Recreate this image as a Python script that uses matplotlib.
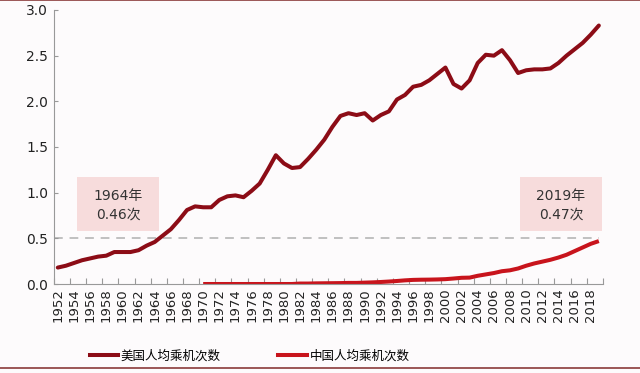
import numpy as np
import matplotlib.pyplot as plt
from matplotlib.lines import Line2D
from matplotlib.patches import Rectangle

plt.rcParams['font.family'] = ['DejaVu Sans', 'Noto Sans CJK SC']

# 年份与数据
years = list(range(1952, 2020))

us_trips = [
    0.18, 0.20, 0.23, 0.26, 0.28, 0.30, 0.31, 0.35, 0.35, 0.35,
    0.37, 0.42, 0.46, 0.53, 0.60, 0.70, 0.81, 0.85, 0.84, 0.84,
    0.92, 0.96, 0.97, 0.95, 1.02, 1.10, 1.25, 1.41, 1.32, 1.27,
    1.28, 1.37, 1.47, 1.58, 1.72, 1.84, 1.87, 1.85, 1.87, 1.79,
    1.85, 1.89, 2.02, 2.07, 2.16, 2.18, 2.23, 2.30, 2.37, 2.19,
    2.14, 2.23, 2.42, 2.51, 2.50, 2.56, 2.45, 2.31, 2.34, 2.35,
    2.35, 2.36, 2.42, 2.50, 2.57, 2.64, 2.73, 2.83]

cn_years = list(range(1970, 2020))
cn_trips = [
    0.00, 0.00, 0.00, 0.00, 0.00, 0.00, 0.00, 0.00, 0.00, 0.00,
    0.00, 0.00, 0.005, 0.005, 0.007, 0.008, 0.009, 0.01, 0.012, 0.012,
    0.015, 0.018, 0.022, 0.027, 0.033, 0.04, 0.045, 0.047, 0.048, 0.05,
    0.053, 0.06, 0.068, 0.07, 0.09, 0.105, 0.12, 0.14, 0.15, 0.17,
    0.20, 0.225, 0.245, 0.265, 0.29, 0.32, 0.36, 0.40, 0.44, 0.47]

us_label = '美国人均乘机次数'
cn_label = '中国人均乘机次数'
ref_level = 0.5
note_texts = ['1964年\n0.46次', '2019年\n0.47次']

us_color = '#8c0c16'
cn_color = '#c8141c'
bg = '#fdfbfc'

fig = plt.figure(figsize=(6.4, 3.73), dpi=100, facecolor=bg)
ax = fig.add_axes([0.084, 0.2386, 0.858, 0.7346], facecolor=bg)

x_us = np.arange(len(years))
x_cn = np.array([years.index(y) for y in cn_years])

ax.plot(x_us, us_trips, color=us_color, lw=2.9, solid_capstyle='round')
ax.plot(x_cn, cn_trips, color=cn_color, lw=2.9, solid_capstyle='butt')

ax.plot([-0.5, len(years) - 1], [ref_level, ref_level], ls=(0, (4.5, 3.5)),
        color='#c0c0c0', lw=1.4, zorder=1)

# 注释框
for (x0, x1), txt in zip([(2.4, 12.5), (57.2, 67.4)], note_texts):
    ax.add_patch(Rectangle((x0, 0.585), x1 - x0, 0.585, fc='#f7dcdc',
                           ec='none', zorder=0))
    ax.text((x0 + x1) / 2, 0.865, txt, ha='center', va='center',
            fontsize=10, color='#333333', linespacing=1.45,
            family=['DejaVu Sans', 'Noto Sans CJK SC'])

ax.set_xlim(-0.5, len(years) - 0.5)
ax.set_ylim(0, 3.0)
ax.set_yticks(np.arange(0, 3.01, 0.5))
ax.set_yticklabels(['%.1f' % v for v in np.arange(0, 3.01, 0.5)],
                   fontsize=10, color='#222222')

ax.set_xticks(np.arange(-0.5, len(years), 2))
ax.set_xticklabels([])
ax.set_xticks(np.arange(0, len(years), 2), minor=True)
ax.set_xticklabels([str(y) for y in years[::2]], minor=True, rotation=90,
                   fontsize=9.5, color='#222222')
ax.tick_params(axis='x', which='major', direction='in', length=4,
               color='#999999')
ax.tick_params(axis='x', which='minor', length=0, pad=3)
ax.tick_params(axis='y', direction='in', length=3, color='#999999', pad=4)

for s in ['top', 'right']:
    ax.spines[s].set_visible(False)
ax.spines['left'].set_color('#999999')
ax.spines['bottom'].set_color('#999999')

handles = [Line2D([], [], color=us_color, lw=2.9),
           Line2D([], [], color=cn_color, lw=2.9)]
fig.legend(handles, [us_label, cn_label], loc='center',
           bbox_to_anchor=(0.39, 0.045), ncol=2, frameon=False,
           prop={'family': 'Noto Sans CJK SC', 'size': 9},
           handlelength=2.3, handletextpad=0.2, columnspacing=4.6)

# 上下边框线
fig.add_artist(Line2D([0, 1], [0.999, 0.999], color='#8a3a3a', lw=1.2,
                      transform=fig.transFigure))
fig.add_artist(Line2D([0, 1], [0.013, 0.013], color='#8a3a3a', lw=1.2,
                      transform=fig.transFigure))

fig.savefig('out.png', dpi=100, facecolor=bg)
